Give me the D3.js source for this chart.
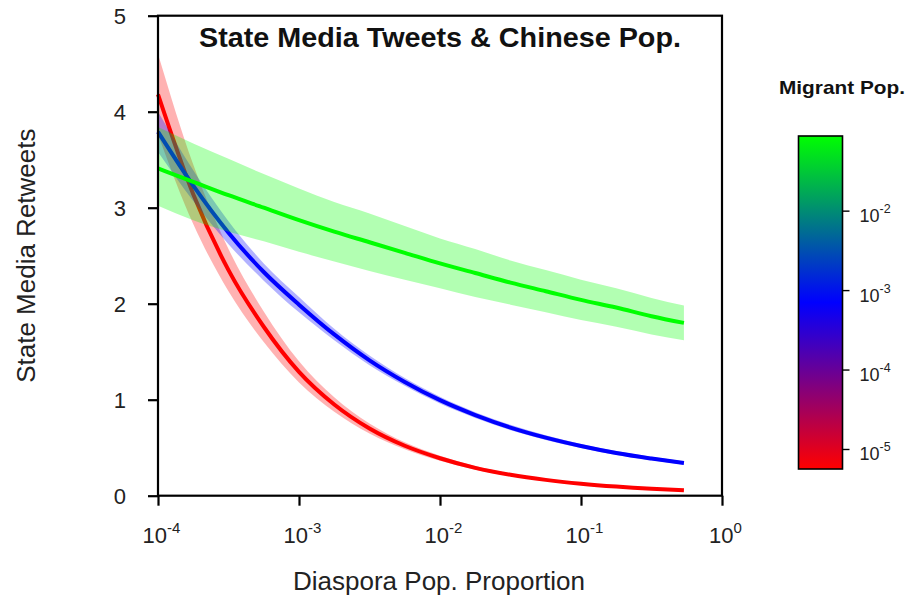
<!DOCTYPE html>
<html>
<head>
<meta charset="utf-8">
<script src="https://cdn.jsdelivr.net/npm/d3@7/dist/d3.min.js"></script>
<style>
  html, body { margin: 0; padding: 0; background: #fff; }
  svg { display: block; font-family: "Liberation Sans", Arial, Helvetica, sans-serif; }
</style>
</head>
<body>
<svg id="chart" width="911" height="598"></svg>
<script>
// Diaspora population proportion at which the fitted curves are evaluated
const diaspora = [1e-4, 1.778e-4, 3.162e-4, 5.623e-4, 1e-3, 1.778e-3, 3.162e-3, 5.623e-3,
                  1e-2, 1.778e-2, 3.162e-2, 5.623e-2, 0.1, 0.1778, 0.3162, 0.537];

// Predicted state media retweets (fit, lower and upper bound) for three migrant population levels
const lowFit  = [4.18, 3.14, 2.35, 1.76, 1.29, 0.95, 0.70, 0.52, 0.39, 0.29, 0.218, 0.165, 0.125, 0.095, 0.072, 0.056];
const lowLo   = [3.76, 2.83, 2.13, 1.60, 1.18, 0.875, 0.648, 0.484, 0.363, 0.271, 0.204, 0.155, 0.117, 0.089, 0.068, 0.053];
const lowHi   = [4.60, 3.45, 2.57, 1.92, 1.40, 1.025, 0.752, 0.556, 0.417, 0.309, 0.232, 0.175, 0.133, 0.101, 0.076, 0.059];

const midFit  = [3.79, 3.23, 2.74, 2.33, 1.99, 1.68, 1.41, 1.185, 0.995, 0.84, 0.71, 0.605, 0.518, 0.445, 0.387, 0.34];
const midLo   = [3.58, 3.07, 2.62, 2.24, 1.91, 1.62, 1.36, 1.145, 0.96, 0.81, 0.682, 0.581, 0.497, 0.425, 0.369, 0.323];
const midHi   = [4.00, 3.39, 2.86, 2.42, 2.07, 1.74, 1.46, 1.225, 1.03, 0.87, 0.738, 0.629, 0.539, 0.465, 0.405, 0.357];

const highFit = [3.41, 3.27, 3.13, 3.00, 2.87, 2.75, 2.64, 2.53, 2.42, 2.32, 2.22, 2.13, 2.04, 1.96, 1.87, 1.80];
const highLo  = [3.02, 2.87, 2.75, 2.65, 2.54, 2.44, 2.34, 2.25, 2.16, 2.07, 1.99, 1.91, 1.83, 1.76, 1.68, 1.62];
const highHi  = [3.84, 3.67, 3.51, 3.35, 3.20, 3.06, 2.94, 2.81, 2.68, 2.57, 2.45, 2.35, 2.25, 2.16, 2.06, 1.98];

// Migrant population levels (min, middle, max) and their colours
const migrantLevels = [5.6e-6, 7.0e-4, 8.7e-2];
const migrantColors = ["#ff0000", "#0000ff", "#00ff00"];

// Axis ticks
const xTickExps = [-4, -3, -2, -1, 0];
const yTicks = [0, 1, 2, 3, 4, 5];
const legendTickExps = [-5, -4, -3, -2];

const series = [
  { fit: lowFit,  lo: lowLo,  hi: lowHi,  color: migrantColors[0] },
  { fit: midFit,  lo: midLo,  hi: midHi,  color: migrantColors[1] },
  { fit: highFit, lo: highLo, hi: highHi, color: migrantColors[2] }
];

const svg = d3.select("#chart");
const plot = { left: 158, right: 722, top: 15.7, bottom: 495.7 };

const x = d3.scaleLog().domain([1e-4, 1]).range([plot.left, plot.right]);
const y = d3.scaleLinear().domain([0, 5]).range([plot.bottom, plot.top]);

// Confidence bands and fitted lines
const gMarks = svg.append("g");
series.forEach(s => {
  const pts = diaspora.map((d, i) => ({ x: d, fit: s.fit[i], lo: s.lo[i], hi: s.hi[i] }));
  gMarks.append("path")
    .datum(pts)
    .attr("fill", s.color)
    .attr("fill-opacity", 0.3)
    .attr("d", d3.area().curve(d3.curveMonotoneX)
      .x(p => x(p.x)).y0(p => y(p.lo)).y1(p => y(p.hi)));
  gMarks.append("path")
    .datum(pts)
    .attr("fill", "none")
    .attr("stroke", s.color)
    .attr("stroke-width", 4)
    .attr("d", d3.line().curve(d3.curveMonotoneX)
      .x(p => x(p.x)).y(p => y(p.fit)));
});

// Frame
svg.append("rect")
  .attr("x", plot.left).attr("y", plot.top)
  .attr("width", plot.right - plot.left).attr("height", plot.bottom - plot.top)
  .attr("fill", "none").attr("stroke", "#000").attr("stroke-width", 2.2);

// Power-of-ten label: "10" with superscript exponent
function powLabel(sel, exp, baseSize, supSize, dy) {
  sel.text(null);
  sel.append("tspan").attr("font-size", baseSize).text("10");
  sel.append("tspan").attr("font-size", supSize).attr("dy", dy).text(exp);
}

// X axis
const xAxis = d3.axisBottom(x)
  .tickValues(xTickExps.map(e => Math.pow(10, e)))
  .tickSize(10).tickPadding(0).tickFormat("");
const gx = svg.append("g").attr("transform", `translate(0,${plot.bottom})`).call(xAxis);
gx.select(".domain").remove();
gx.selectAll(".tick line").attr("stroke", "#000").attr("stroke-width", 2.2);
gx.selectAll(".tick").each(function (d, i) {
  d3.select(this).append("text")
    .attr("x", 3).attr("y", 47.5)
    .attr("text-anchor", "middle")
    .attr("fill", "#222")
    .call(t => powLabel(t, String(xTickExps[i]), 22, 15, -10));
});

// Y axis
const yAxis = d3.axisLeft(y).tickValues(yTicks).tickSize(10).tickPadding(0).tickFormat("");
const gy = svg.append("g").attr("transform", `translate(${plot.left},0)`).call(yAxis);
gy.select(".domain").remove();
gy.selectAll(".tick line").attr("stroke", "#000").attr("stroke-width", 2.2);
gy.selectAll(".tick").append("text")
  .attr("x", -32).attr("y", 8)
  .attr("text-anchor", "end")
  .attr("font-size", 22)
  .attr("fill", "#222")
  .text(d => d);

// Titles
svg.append("text")
  .attr("x", 440).attr("y", 47)
  .attr("text-anchor", "middle")
  .attr("font-size", 27.5).attr("font-weight", "bold")
  .attr("textLength", 482).attr("lengthAdjust", "spacingAndGlyphs")
  .attr("fill", "#111")
  .text("State Media Tweets & Chinese Pop.");

svg.append("text")
  .attr("x", 439).attr("y", 590)
  .attr("text-anchor", "middle")
  .attr("font-size", 26)
  .attr("fill", "#222")
  .text("Diaspora Pop. Proportion");

svg.append("text")
  .attr("transform", `translate(35,${(plot.top + plot.bottom) / 2}) rotate(-90)`)
  .attr("text-anchor", "middle")
  .attr("font-size", 26)
  .attr("fill", "#222")
  .text("State Media Retweets");

// Colour bar for migrant population
const bar = { x: 798.5, y: 136, w: 44, h: 333 };
const cScale = d3.scaleLog().domain(migrantLevels).range(migrantColors).interpolate(d3.interpolateRgb);
const ly = d3.scaleLog().domain([migrantLevels[0], migrantLevels[2]]).range([bar.y + bar.h, bar.y]);

const grad = svg.append("defs").append("linearGradient")
  .attr("id", "migrantGrad").attr("x1", 0).attr("y1", 1).attr("x2", 0).attr("y2", 0);
d3.range(0, 1.0001, 0.05).forEach(t => {
  const v = ly.invert(bar.y + bar.h - t * bar.h);
  grad.append("stop").attr("offset", t).attr("stop-color", cScale(v));
});

svg.append("rect")
  .attr("x", bar.x).attr("y", bar.y).attr("width", bar.w).attr("height", bar.h)
  .attr("fill", "url(#migrantGrad)").attr("stroke", "#000").attr("stroke-width", 1.6);

const lAxis = d3.axisRight(ly)
  .tickValues(legendTickExps.map(e => Math.pow(10, e)))
  .tickSize(7).tickPadding(0).tickFormat("");
const gl = svg.append("g").attr("transform", `translate(${bar.x + bar.w},0)`).call(lAxis);
gl.select(".domain").remove();
gl.selectAll(".tick line").attr("stroke", "#000").attr("stroke-width", 1.4);
gl.selectAll(".tick").each(function (d, i) {
  d3.select(this).append("text")
    .attr("x", 17).attr("y", 11)
    .attr("text-anchor", "start")
    .attr("fill", "#222")
    .call(t => powLabel(t, String(legendTickExps[i]), 18, 12.5, -9));
});

svg.append("text")
  .attr("x", 842).attr("y", 94)
  .attr("text-anchor", "middle")
  .attr("font-size", 19).attr("font-weight", "bold")
  .attr("textLength", 126).attr("lengthAdjust", "spacingAndGlyphs")
  .attr("fill", "#111")
  .text("Migrant Pop.");
</script>
</body>
</html>
